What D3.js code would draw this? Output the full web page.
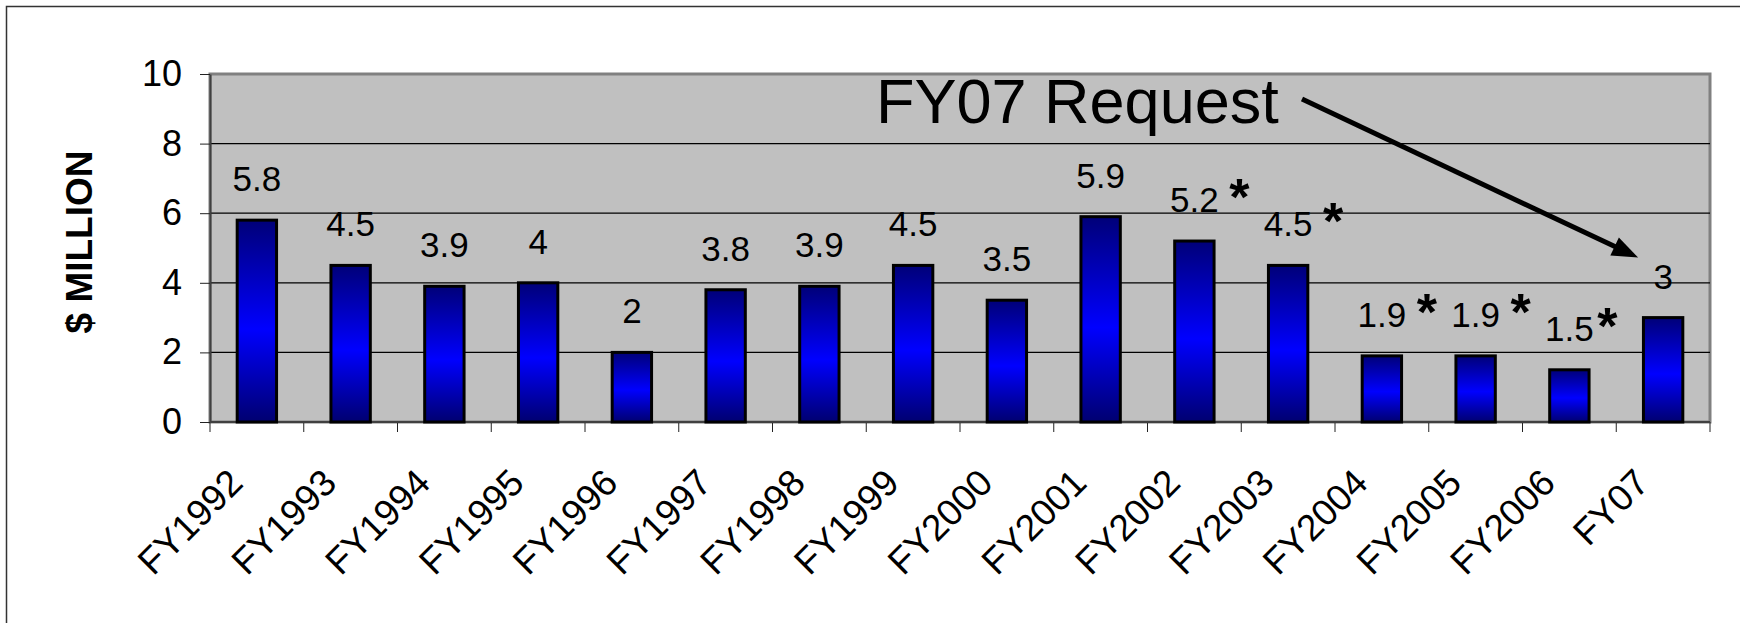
<!DOCTYPE html>
<html>
<head>
<meta charset="utf-8">
<script src="https://cdn.jsdelivr.net/npm/d3@7"></script>
<style>
    body { margin: 0; background: #fff; }
    text { font-family: Arial, "Liberation Sans", sans-serif; }
</style>
</head>
<body>
<script>
// =====
// DATA
// =====
var categories = ["FY1992", "FY1993", "FY1994", "FY1995", "FY1996", "FY1997", "FY1998", "FY1999",
    "FY2000", "FY2001", "FY2002", "FY2003", "FY2004", "FY2005", "FY2006", "FY07"];
var values = [5.8, 4.5, 3.9, 4, 2, 3.8, 3.9, 4.5, 3.5, 5.9, 5.2, 4.5, 1.9, 1.9, 1.5, 3];
// years marked with an asterisk next to the value
var starred = ["FY2002", "FY2003", "FY2004", "FY2005", "FY2006"];
var yTicks = [0, 2, 4, 6, 8, 10];
var yTitle = "$ MILLION";
var noteText = "FY07 Request";
var noteTarget = "FY07";

// ========
// LAYOUT
// ========
var width = 1740, height = 623;
var plot = {left: 210, right: 1710, top: 74, bottom: 422};
// horizontal gap between a value label and its asterisk
var starGap = {"FY2006": 38};
var starGapDefault = 45;

var svg = d3.select("body").append("svg")
    .attr("width", width)
    .attr("height", height);

// vertical gradient on the bars: navy -> blue -> navy
var grad = svg.append("defs").append("linearGradient")
    .attr("id", "barFill")
    .attr("x1", 0).attr("y1", 0).attr("x2", 0).attr("y2", 1);
grad.append("stop").attr("offset", "0%").attr("stop-color", "#000078");
grad.append("stop").attr("offset", "54%").attr("stop-color", "#0000ff");
grad.append("stop").attr("offset", "100%").attr("stop-color", "#000070");

var x = d3.scaleBand()
    .domain(categories)
    .range([plot.left, plot.right])
    .paddingInner(0.58)
    .paddingOuter(0.29);

var y = d3.scaleLinear()
    .domain([0, 10])
    .range([plot.bottom, plot.top]);

// outer frame (runs off the right and bottom edge)
svg.append("rect")
    .attr("x", 6.5).attr("y", 6.5)
    .attr("width", width + 100).attr("height", height + 100)
    .attr("fill", "none")
    .attr("stroke", "#333")
    .attr("stroke-width", 1.5);

// plot area
svg.append("rect")
    .attr("x", plot.left).attr("y", plot.top)
    .attr("width", plot.right - plot.left)
    .attr("height", plot.bottom - plot.top)
    .attr("fill", "#c0c0c0")
    .attr("stroke", "#808080")
    .attr("stroke-width", 3);

// gridlines
svg.append("g")
    .selectAll("line")
    .data(yTicks.filter(function (t) { return t > 0 && t < 10; }))
    .enter().append("line")
    .attr("x1", plot.left).attr("x2", plot.right)
    .attr("y1", function (d) { return y(d); })
    .attr("y2", function (d) { return y(d); })
    .attr("stroke", "#000")
    .attr("stroke-width", 1.2);

// y axis
var yAxis = svg.append("g")
    .attr("transform", "translate(" + plot.left + ",0)")
    .call(d3.axisLeft(y).tickValues(yTicks).tickSize(10).tickSizeOuter(0).tickPadding(18));
yAxis.select(".domain").attr("stroke", "#404040").attr("stroke-width", 2);
yAxis.selectAll(".tick line").attr("stroke", "#222");
yAxis.selectAll(".tick text")
    .attr("font-size", 36)
    .attr("fill", "#000")
    .attr("font-family", "Arial, 'Liberation Sans', sans-serif");

// x axis: labels at band centres, ticks between the categories
var xAxis = svg.append("g")
    .attr("transform", "translate(0," + plot.bottom + ")")
    .call(d3.axisBottom(x).tickSize(0));
xAxis.select(".domain").remove();
xAxis.selectAll(".tick text")
    .attr("x", 0).attr("y", 0).attr("dy", 0)
    .attr("text-anchor", "end")
    .attr("transform", "translate(-12,63) rotate(-45)")
    .attr("font-size", 37)
    .attr("fill", "#000")
    .attr("font-family", "Arial, 'Liberation Sans', sans-serif");

xAxis.selectAll("line.sep")
    .data(d3.range(categories.length + 1))
    .enter().append("line")
    .attr("class", "sep")
    .attr("x1", function (i) { return plot.left + i * x.step(); })
    .attr("x2", function (i) { return plot.left + i * x.step(); })
    .attr("y1", 0).attr("y2", 10)
    .attr("stroke", "#222");

xAxis.append("line")
    .attr("x1", plot.left).attr("x2", plot.right)
    .attr("y1", 0).attr("y2", 0)
    .attr("stroke", "#404040")
    .attr("stroke-width", 2);

// bars
var rows = categories.map(function (c, i) { return {cat: c, value: values[i]}; });

svg.append("g")
    .selectAll("rect")
    .data(rows)
    .enter().append("rect")
    .attr("x", function (d) { return x(d.cat); })
    .attr("width", x.bandwidth())
    .attr("y", function (d) { return y(d.value); })
    .attr("height", function (d) { return y(0) - y(d.value); })
    .attr("fill", "url(#barFill)")
    .attr("stroke", "#000")
    .attr("stroke-width", 3);

// value labels
svg.append("g")
    .selectAll("text")
    .data(rows)
    .enter().append("text")
    .attr("x", function (d) { return x(d.cat) + x.bandwidth() / 2; })
    .attr("y", function (d) { return y(d.value) - 29; })
    .attr("text-anchor", "middle")
    .attr("font-size", 35)
    .attr("fill", "#000")
    .text(function (d) { return d.value; });

// asterisks
svg.append("g")
    .selectAll("text")
    .data(rows.filter(function (d) { return starred.indexOf(d.cat) >= 0; }))
    .enter().append("text")
    .attr("x", function (d) {
        var gap = starGap[d.cat] !== undefined ? starGap[d.cat] : starGapDefault;
        return x(d.cat) + x.bandwidth() / 2 + gap;
    })
    .attr("y", function (d) { return y(d.value) - 26; })
    .attr("text-anchor", "middle")
    .attr("font-size", 52)
    .attr("font-weight", "bold")
    .attr("fill", "#000")
    .text("*");

// y axis title
svg.append("text")
    .attr("transform", "translate(92,242) rotate(-90)")
    .attr("text-anchor", "middle")
    .attr("font-size", 37)
    .attr("font-weight", "bold")
    .attr("fill", "#000")
    .text(yTitle);

// "FY07 Request" note with arrow
svg.append("text")
    .attr("x", 876).attr("y", 123)
    .attr("font-size", 63)
    .attr("fill", "#000")
    .text(noteText);

var tVal = values[categories.indexOf(noteTarget)];
var tip = [x(noteTarget) + x.bandwidth() / 2 - 25, y(tVal) - 60];
var start = [1302, 99];
var dx = tip[0] - start[0], dy = tip[1] - start[1];
var len = Math.sqrt(dx * dx + dy * dy);
var ux = dx / len, uy = dy / len;
var headLen = 26, headHalf = 10;
var base = [tip[0] - headLen * ux, tip[1] - headLen * uy];

svg.append("line")
    .attr("x1", start[0]).attr("y1", start[1])
    .attr("x2", base[0] + 2 * ux).attr("y2", base[1] + 2 * uy)
    .attr("stroke", "#000")
    .attr("stroke-width", 5);

svg.append("polygon")
    .attr("points", [
        tip,
        [base[0] - headHalf * uy, base[1] + headHalf * ux],
        [base[0] + headHalf * uy, base[1] - headHalf * ux]
    ].map(function (p) { return p.join(","); }).join(" "))
    .attr("fill", "#000");
</script>
</body>
</html>
